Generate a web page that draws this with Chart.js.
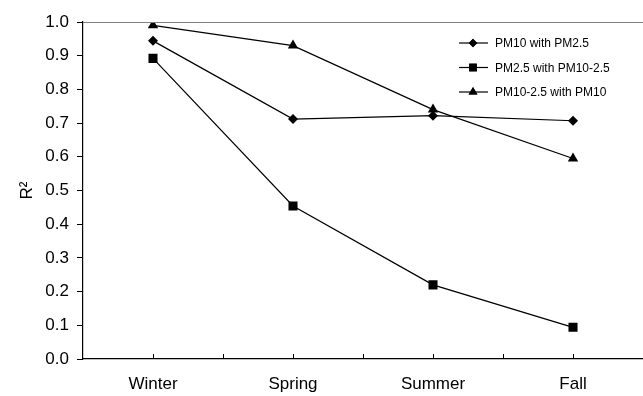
<!DOCTYPE html>
<html>
<head>
<meta charset="utf-8">
<script src="https://cdn.jsdelivr.net/npm/chart.js@4"></script>
<style>
  html, body { margin: 0; padding: 0; background: #fff; }
  #wrap { width: 643px; height: 396px; }
</style>
</head>
<body>
<div id="wrap"><canvas id="myChart" width="643" height="396"></canvas></div>
<script>
// data
const seasons = ['Winter', 'Spring', 'Summer', 'Fall'];
const pm10WithPm25 = [0.944, 0.712, 0.722, 0.707];
const pm25WithCoarse = [0.892, 0.454, 0.22, 0.094];
const coarseWithPm10 = [0.990, 0.930, 0.740, 0.595];
const yTicks = [0, 0.1, 0.2, 0.3, 0.4, 0.5, 0.6, 0.7, 0.8, 0.9, 1.0];

const seriesNames = ['PM10 with PM2.5', 'PM2.5 with PM10-2.5', 'PM10-2.5 with PM10'];
const markers = ['rectRot', 'rect', 'triangle'];
const markerSizes = [5, 6.4, 6];
const fontFam = '"Liberation Sans", Arial, sans-serif';

// top border + inward x ticks + legend
const extras = {
  id: 'extras',
  afterDraw(chart) {
    const c = chart.ctx;
    const area = chart.chartArea;
    const x = chart.scales.x;
    c.save();
    // grey top line
    c.strokeStyle = '#808080';
    c.lineWidth = 1;
    c.beginPath();
    c.moveTo(area.left, area.top + 0.5);
    c.lineTo(area.right, area.top + 0.5);
    c.stroke();
    // tick marks pointing up, at categories and between them
    c.strokeStyle = '#000';
    for (let i = 0; i < seasons.length; i++) {
      [i - 0.5, i].forEach(function (v) {
        if (v < 0) return;
        const px = Math.round(x.getPixelForValue(v)) + 0.5;
        c.beginPath();
        c.moveTo(px, area.bottom);
        c.lineTo(px, area.bottom - 5);
        c.stroke();
      });
    }
    // legend
    c.font = '12px ' + fontFam;
    c.textBaseline = 'middle';
    c.fillStyle = '#000';
    for (let k = 0; k < seriesNames.length; k++) {
      const ly = 43 + k * 24.5;
      c.lineWidth = 1.2;
      c.beginPath();
      c.moveTo(459, ly);
      c.lineTo(488, ly);
      c.stroke();
      Chart.helpers.drawPoint(c, { pointStyle: markers[k], radius: markerSizes[k] * 0.85, borderWidth: 0 }, 473, ly);
      c.fill();
      c.fillText(seriesNames[k], 495, ly + 1);
    }
    c.restore();
  }
};

const datasets = [pm10WithPm25, pm25WithCoarse, coarseWithPm10].map(function (vals, k) {
  return {
    label: seriesNames[k],
    data: vals,
    borderColor: '#000',
    backgroundColor: '#000',
    borderWidth: 1.2,
    pointStyle: markers[k],
    pointRadius: markerSizes[k],
    pointBorderWidth: 0,
    pointHoverRadius: markerSizes[k],
    tension: 0
  };
});

const ctx = document.getElementById('myChart').getContext('2d');
const myChart = new Chart(ctx, {
  type: 'line',
  data: { labels: seasons, datasets: datasets },
  options: {
    responsive: false,
    animation: false,
    layout: { autoPadding: false, padding: { top: 22, right: 0, bottom: 0, left: 0 } },
    plugins: { legend: { display: false }, tooltip: { enabled: false } },
    scales: {
      x: {
        offset: true,
        afterFit(scale) { scale.height = 37; scale.paddingRight = 0; scale.paddingLeft = 0; },
        grid: { display: false, drawTicks: false },
        border: { color: '#000', width: 1.2 },
        ticks: {
          color: '#000',
          padding: 15,
          maxRotation: 0,
          font: { family: fontFam, size: 17 }
        }
      },
      y: {
        min: 0,
        max: 1,
        afterBuildTicks(scale) { scale.ticks = yTicks.map(v => ({ value: v })); },
        afterFit(scale) { scale.width = 83; },
        grid: { drawOnChartArea: false, tickLength: 6, color: '#000' },
        border: { color: '#000', width: 1.2 },
        ticks: {
          color: '#000',
          padding: 8,
          callback: v => v.toFixed(1),
          font: { family: fontFam, size: 17 }
        },
        title: {
          display: true,
          text: 'R²',
          color: '#000',
          padding: { top: 17, bottom: 0 },
          font: { family: fontFam, size: 17 }
        }
      }
    }
  },
  plugins: [extras]
});
</script>
</body>
</html>
